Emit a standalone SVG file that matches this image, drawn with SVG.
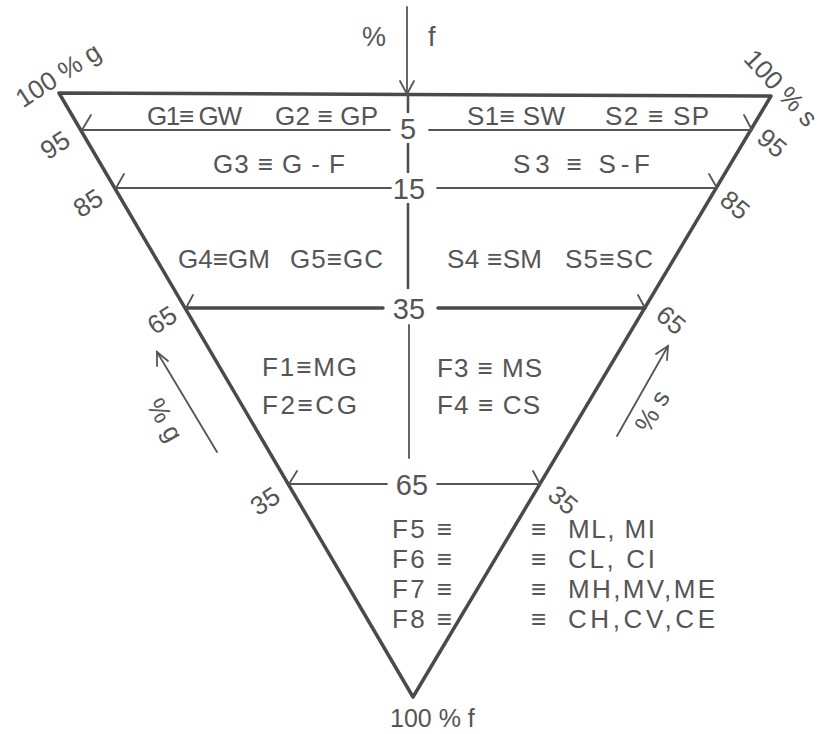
<svg xmlns="http://www.w3.org/2000/svg" width="827" height="734" viewBox="0 0 827 734">
<style>
  text { font-family: "Liberation Sans", "DejaVu Sans", sans-serif; fill: #555; }
  .lbl { font-size: 26px; }
  .num { font-size: 29px; text-anchor: middle; }
  .edge { font-size: 26px; text-anchor: middle; dominant-baseline: central; }
  .thick { stroke: #4a4a4a; stroke-width: 3.5; fill: none; stroke-linecap: round; stroke-linejoin: round; }
  .mid { stroke: #505050; stroke-width: 2.6; fill: none; stroke-linecap: round; }
  .thin { stroke: #555; stroke-width: 1.8; fill: none; stroke-linecap: round; }
</style>
<rect width="827" height="734" fill="#ffffff"/>

<g id="triangle">
  <polyline class="thick" points="413,697 59,93 771,96 413,697"/>
</g>

<g id="connectors">
  <line class="thin" x1="407" y1="7" x2="407" y2="94"/>
  <polyline class="thin" points="400,81 407,94 414,81"/>
  <line class="mid" x1="408" y1="96" x2="408" y2="112"/>
  <line class="mid" x1="408" y1="144" x2="408" y2="172"/>
  <line class="mid" x1="408" y1="204" x2="408" y2="288"/>
  <line class="thin" x1="409" y1="325" x2="409" y2="458"/>
  <line class="thin" x1="82" y1="130" x2="390" y2="130"/>
  <line class="thin" x1="429" y1="130" x2="752" y2="130"/>
  <line class="thin" x1="82" y1="130" x2="91" y2="115"/>
  <line class="thin" x1="752" y1="130" x2="744" y2="115"/>
  <line class="thin" x1="116" y1="188" x2="391" y2="188"/>
  <line class="thin" x1="437" y1="188" x2="717" y2="188"/>
  <line class="thin" x1="116" y1="188" x2="124" y2="174"/>
  <line class="thin" x1="717" y1="188" x2="709" y2="174"/>
  <line class="thick" x1="186" y1="308" x2="383" y2="308"/>
  <line class="thick" x1="438" y1="308" x2="645" y2="308"/>
  <line class="thin" x1="186" y1="308" x2="193" y2="295"/>
  <line class="thin" x1="645" y1="308" x2="638" y2="295"/>
  <line class="thin" x1="289" y1="484" x2="387" y2="484"/>
  <line class="thin" x1="437" y1="484" x2="540" y2="484"/>
  <line class="thin" x1="289" y1="484" x2="297" y2="471"/>
  <line class="thin" x1="540" y1="484" x2="533" y2="471"/>
  <line class="thin" x1="217" y1="452" x2="157" y2="352"/>
  <polyline class="thin" points="157,366 157,352 168,361"/>
  <line class="thin" x1="617" y1="436" x2="668" y2="346"/>
  <polyline class="thin" points="656,354 668,346 667,360"/>
</g>

<g id="top-labels">
  <text x="362" y="46" font-size="27">%</text>
  <text x="428" y="46" font-size="27">f</text>
</g>

<g id="edge-labels">
  <text class="edge" transform="translate(58,75) rotate(-33)">100 % g</text>
  <text class="edge" transform="translate(55,145) rotate(-33)">95</text>
  <text class="edge" transform="translate(88,203) rotate(-33)">85</text>
  <text class="edge" transform="translate(162,320) rotate(-33)">65</text>
  <text class="edge" transform="translate(265,501) rotate(-33)">35</text>
  <text class="edge" transform="translate(781,88) rotate(47)" font-size="23">100 % s</text>
  <text class="edge" transform="translate(772,143) rotate(40)">95</text>
  <text class="edge" transform="translate(735,205) rotate(40)">85</text>
  <text class="edge" transform="translate(671,320) rotate(40)">65</text>
  <text class="edge" transform="translate(563,500) rotate(40)">35</text>
  <text class="edge" transform="translate(165,420) rotate(60)">% g</text>
  <text class="edge" transform="translate(652,411) rotate(-60)">% s</text>
</g>

<g id="scale-numbers">
  <text class="num" x="408" y="139">5</text>
  <text class="num" x="409" y="199">15</text>
  <text class="num" x="409" y="319">35</text>
  <text class="num" x="412" y="495">65</text>
</g>

<g id="gravel-sand">
  <text class="lbl" x="147" y="125" textLength="95">G1≡ GW</text>
  <text class="lbl" x="275" y="125" textLength="103">G2 ≡ GP</text>
  <text class="lbl" x="467" y="125" textLength="98">S1≡ SW</text>
  <text class="lbl" x="605" y="125" textLength="104">S2 ≡ SP</text>
  <text class="lbl" x="213" y="173" textLength="132">G3 ≡ G - F</text>
  <text class="lbl" x="513" y="173" textLength="137">S3 ≡ S-F</text>
  <text class="lbl" x="178" y="268" textLength="92">G4≡GM</text>
  <text class="lbl" x="290" y="268" textLength="93">G5≡GC</text>
  <text class="lbl" x="447" y="268" textLength="95">S4 ≡SM</text>
  <text class="lbl" x="565" y="268" textLength="88">S5≡SC</text>
</g>

<g id="fines">
  <text class="lbl" x="262" y="376" textLength="95">F1≡MG</text>
  <text class="lbl" x="262" y="414" textLength="95">F2≡CG</text>
  <text class="lbl" x="437" y="377" textLength="105">F3 ≡ MS</text>
  <text class="lbl" x="437" y="414" textLength="103">F4 ≡ CS</text>
</g>

<g id="fine-groups">
  <text class="lbl" x="392" y="538" textLength="60">F5 ≡</text>
  <text class="lbl" x="392" y="568" textLength="60">F6 ≡</text>
  <text class="lbl" x="392" y="598" textLength="60">F7 ≡</text>
  <text class="lbl" x="392" y="628" textLength="60">F8 ≡</text>
  <text class="lbl" x="531" y="538">≡</text>
  <text class="lbl" x="531" y="568">≡</text>
  <text class="lbl" x="531" y="598">≡</text>
  <text class="lbl" x="531" y="628">≡</text>
  <text class="lbl" x="568" y="538" textLength="87">ML, MI</text>
  <text class="lbl" x="568" y="568" textLength="87">CL, CI</text>
  <text class="lbl" x="568" y="598" textLength="147">MH,MV,ME</text>
  <text class="lbl" x="568" y="628" textLength="147">CH,CV,CE</text>
</g>

<g id="bottom-label">
  <text x="390" y="727" font-size="25">100 % f</text>
</g>
</svg>
